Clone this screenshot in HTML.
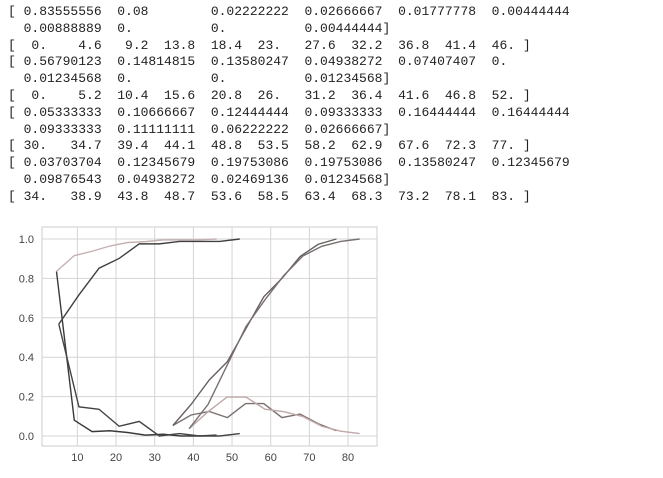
<!DOCTYPE html>
<html><head><meta charset="utf-8"><style>
html,body{margin:0;padding:0;background:#fff;width:663px;height:478px;overflow:hidden;position:relative}
.ln{position:absolute;left:8px;margin:0;font-family:"Liberation Mono",monospace;font-size:13px;line-height:16px;height:16px;white-space:pre;color:#222}
svg{position:absolute;left:0;top:0}
</style></head><body>
<div>
<div class="ln" style="top:4px">[ 0.83555556  0.08        0.02222222  0.02666667  0.01777778  0.00444444</div>
<div class="ln" style="top:20.8px">  0.00888889  0.          0.          0.00444444]</div>
<div class="ln" style="top:37.6px">[  0.    4.6   9.2  13.8  18.4  23.   27.6  32.2  36.8  41.4  46. ]</div>
<div class="ln" style="top:54.4px">[ 0.56790123  0.14814815  0.13580247  0.04938272  0.07407407  0.</div>
<div class="ln" style="top:71.2px">  0.01234568  0.          0.          0.01234568]</div>
<div class="ln" style="top:88px">[  0.    5.2  10.4  15.6  20.8  26.   31.2  36.4  41.6  46.8  52. ]</div>
<div class="ln" style="top:104.8px">[ 0.05333333  0.10666667  0.12444444  0.09333333  0.16444444  0.16444444</div>
<div class="ln" style="top:121.6px">  0.09333333  0.11111111  0.06222222  0.02666667]</div>
<div class="ln" style="top:138.4px">[ 30.   34.7  39.4  44.1  48.8  53.5  58.2  62.9  67.6  72.3  77. ]</div>
<div class="ln" style="top:155.2px">[ 0.03703704  0.12345679  0.19753086  0.19753086  0.13580247  0.12345679</div>
<div class="ln" style="top:172px">  0.09876543  0.04938272  0.02469136  0.01234568]</div>
<div class="ln" style="top:188.8px">[ 34.   38.9  43.8  48.7  53.6  58.5  63.4  68.3  73.2  78.1  83. ]</div>
</div>
<svg id="chart" width="663" height="478"></svg>
<script>
const bins1=[0,4.6,9.2,13.8,18.4,23,27.6,32.2,36.8,41.4,46];
const vals1=[0.83555556,0.08,0.02222222,0.02666667,0.01777778,0.00444444,0.00888889,0,0,0.00444444];
const bins2=[0,5.2,10.4,15.6,20.8,26,31.2,36.4,41.6,46.8,52];
const vals2=[0.56790123,0.14814815,0.13580247,0.04938272,0.07407407,0,0.01234568,0,0,0.01234568];
const bins3=[30,34.7,39.4,44.1,48.8,53.5,58.2,62.9,67.6,72.3,77];
const vals3=[0.05333333,0.10666667,0.12444444,0.09333333,0.16444444,0.16444444,0.09333333,0.11111111,0.06222222,0.02666667];
const bins4=[34,38.9,43.8,48.7,53.6,58.5,63.4,68.3,73.2,78.1,83];
const vals4=[0.03703704,0.12345679,0.19753086,0.19753086,0.13580247,0.12345679,0.09876543,0.04938272,0.02469136,0.01234568];
const xTicks=[10,20,30,40,50,60,70,80];
const yTicks=[0,0.2,0.4,0.6,0.8,1.0];
const series=[
 {name:'dist1',bins:bins1,vals:vals1,pdfColor:'#3a3a3a',cdfColor:'#c4b2b2'},
 {name:'dist2',bins:bins2,vals:vals2,pdfColor:'#444',cdfColor:'#404040'},
 {name:'dist3',bins:bins3,vals:vals3,pdfColor:'#7a7070',cdfColor:'#686060'},
 {name:'dist4',bins:bins4,vals:vals4,pdfColor:'#c0a8a8',cdfColor:'#787070'}
];
const NS='http://www.w3.org/2000/svg';
const svg=document.getElementById('chart');
const L=42,R=377,T=227,B=446;
const xs=v=>38.7+v*3.867;
const ys=v=>436-v*197;
function mk(tag,attrs,parent){const e=document.createElementNS(NS,tag);for(const k in attrs)e.setAttribute(k,attrs[k]);(parent||svg).appendChild(e);return e;}
const frame=mk('rect',{x:L,y:T,width:R-L,height:B-T,fill:'#fff',stroke:'#ccc','stroke-width':1});


xTicks.forEach(t=>{
 const g=mk('line',{x1:xs(t),x2:xs(t),y1:T,y2:B,stroke:'#d4d4d4','stroke-width':1});
 
 
 const tx=mk('text',{x:xs(t),y:461,'text-anchor':'middle','font-size':11,'font-family':'Liberation Sans, sans-serif',fill:'#444'});
 tx.textContent=t;
 
 
});
yTicks.forEach(t=>{
 const g=mk('line',{x1:L,x2:R,y1:ys(t),y2:ys(t),stroke:'#d4d4d4','stroke-width':1});
 
 
 const tx=mk('text',{x:34,y:ys(t)+4,'text-anchor':'end','font-size':11,'font-family':'Liberation Sans, sans-serif',fill:'#444'});
 tx.textContent=t.toFixed(1);
 
 
});
series.forEach(s=>{
 const xsv=s.bins.slice(1);
 let c=0;const cum=s.vals.map(v=>(c+=v));
 const pdf=mk('polyline',{points:xsv.map((x,i)=>xs(x)+','+ys(s.vals[i])).join(' '),fill:'none',stroke:s.pdfColor,'stroke-width':1.4});
 
 
 const cdf=mk('polyline',{points:xsv.map((x,i)=>xs(x)+','+ys(cum[i])).join(' '),fill:'none',stroke:s.cdfColor,'stroke-width':1.4});
 
 
});
</script>
</body></html>
